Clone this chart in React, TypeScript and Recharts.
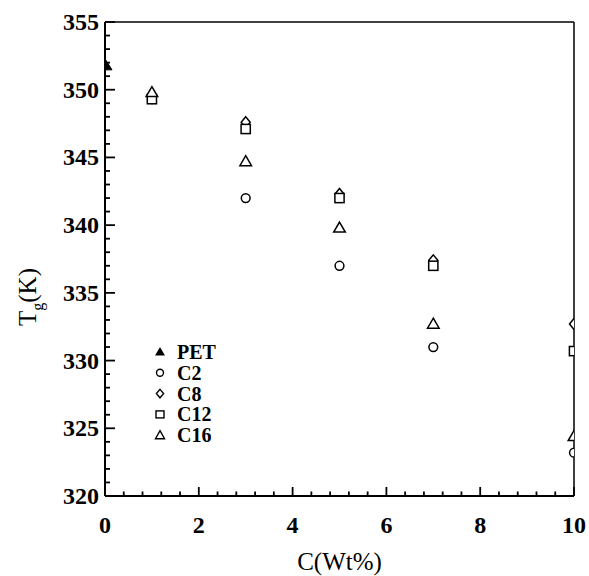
import React from 'react';
import { ScatterChart, Scatter, XAxis, YAxis, ReferenceLine } from 'recharts';

// ---- data ----
const concentrations = [1, 3, 5, 7, 10];
const petConc = [0];
const petTg = [351.8];
const c2Tg = [349.3, 342.0, 337.0, 331.0, 323.2];
const c8Tg = [349.6, 347.6, 342.3, 337.4, 332.7];
const c12Tg = [349.3, 347.1, 342.0, 337.0, 330.7];
const c16Tg = [349.8, 344.7, 339.8, 332.7, 324.4];

// ---- ticks ----
const xTicks = [0, 0.4, 0.8, 1.2, 1.6, 2, 2.4, 2.8, 3.2, 3.6, 4, 4.4, 4.8, 5.2, 5.6, 6, 6.4, 6.8, 7.2, 7.6, 8, 8.4, 8.8, 9.2, 9.6, 10];
const xLabels = [0, 2, 4, 6, 8, 10];
const yTicks = [320, 321, 322, 323, 324, 325, 326, 327, 328, 329, 330, 331, 332, 333, 334, 335, 336, 337, 338, 339, 340, 341, 342, 343, 344, 345, 346, 347, 348, 349, 350, 351, 352, 353, 354, 355];
const yLabels = [320, 325, 330, 335, 340, 345, 350, 355];

const legendNames = ['PET', 'C2', 'C8', 'C12', 'C16'];

const toPoints = (xs: number[], ys: number[]) => xs.map((x, i) => ({ x, y: ys[i] }));

const petData = toPoints(petConc, petTg);
const c2Data = toPoints(concentrations, c2Tg);
const c8Data = toPoints(concentrations, c8Tg);
const c12Data = toPoints(concentrations, c12Tg);
const c16Data = toPoints(concentrations, c16Tg);

const SERIF = '"Liberation Serif", "Times New Roman", serif';
const INK = '#000';

const isNear = (a: number, list: number[]) => list.some((b) => Math.abs(a - b) < 1e-6);

const YTick = (props: any) => {
  const x = Number(props.x);
  const y = Number(props.y);
  const v = props.payload.value;
  const major = isNear(v, yLabels);
  return (
    <g>
      <line x1={x} x2={x + (major ? 10 : 5)} y1={y} y2={y} stroke={INK} strokeWidth={1.8} />
      {major && (
        <text x={x - 6} y={y + 8} textAnchor="end" fontFamily={SERIF} fontWeight="bold" fontSize={24} fill={INK}>
          {v}
        </text>
      )}
    </g>
  );
};

const XTick = (props: any) => {
  const x = Number(props.x);
  const y = Number(props.y);
  const v = props.payload.value;
  const major = isNear(v, xLabels);
  return (
    <g>
      <line x1={x} x2={x} y1={y} y2={y - (major ? 9 : 4.5)} stroke={INK} strokeWidth={1.8} />
      {major && (
        <text x={x} y={y + 37} textAnchor="middle" fontFamily={SERIF} fontWeight="bold" fontSize={24} fill={INK}>
          {v}
        </text>
      )}
    </g>
  );
};

const OpenCircle = (p: any) => (
  <circle cx={p.cx} cy={p.cy} r={4.4} fill="#fff" stroke={INK} strokeWidth={1.5} />
);
const OpenDiamond = (p: any) => (
  <path d={`M${p.cx},${p.cy - 5.5} L${p.cx + 4.5},${p.cy} L${p.cx},${p.cy + 5.5} L${p.cx - 4.5},${p.cy} Z`} fill="#fff" stroke={INK} strokeWidth={1.5} />
);
const OpenSquare = (p: any) => (
  <rect x={p.cx - 4.6} y={p.cy - 4.6} width={9.2} height={9.2} fill="#fff" stroke={INK} strokeWidth={1.5} />
);
const OpenTriangle = (p: any) => (
  <path d={`M${p.cx},${p.cy - 5.8} L${p.cx + 5.8},${p.cy + 4.2} L${p.cx - 5.8},${p.cy + 4.2} Z`} fill="#fff" stroke={INK} strokeWidth={1.5} />
);
const FilledTriangle = (p: any) => (
  <path d={`M${p.cx},${p.cy - 6.5} L${p.cx + 7},${p.cy + 4.5} L${p.cx - 7},${p.cy + 4.5} Z`} fill={INK} stroke={INK} strokeWidth={1} />
);

const legendMarker = (name: string, cx: number, cy: number) => {
  switch (name) {
    case 'PET':
      return <path d={`M${cx},${cy - 5} L${cx + 5},${cy + 3.5} L${cx - 5},${cy + 3.5} Z`} fill={INK} />;
    case 'C2':
      return <circle cx={cx} cy={cy} r={3.5} fill="#fff" stroke={INK} strokeWidth={1.4} />;
    case 'C8':
      return <path d={`M${cx},${cy - 4.2} L${cx + 3.6},${cy} L${cx},${cy + 4.2} L${cx - 3.6},${cy} Z`} fill="#fff" stroke={INK} strokeWidth={1.4} />;
    case 'C12':
      return <rect x={cx - 4} y={cy - 3.5} width={8} height={7} fill="#fff" stroke={INK} strokeWidth={1.4} />;
    default:
      return <path d={`M${cx},${cy - 4.5} L${cx + 4.5},${cy + 3.5} L${cx - 4.5},${cy + 3.5} Z`} fill="#fff" stroke={INK} strokeWidth={1.4} />;
  }
};

export default function App() {
  return (
    <div style={{ position: 'absolute', left: 0, top: 0, width: 589, height: 576, background: '#fff' }}>
      <ScatterChart width={589} height={576} margin={{ top: 22, right: 15, bottom: 50, left: 45 }}>
        <XAxis
          type="number"
          dataKey="x"
          domain={[0, 10]}
          ticks={xTicks}
          interval={0}
          height={30}
          tickSize={0}
          tickMargin={0}
          tickLine={false}
          axisLine={{ stroke: INK, strokeWidth: 2 }}
          tick={<XTick />}
          allowDataOverflow
          label={{
            content: (p: any) => {
              const vb = p.viewBox || { x: 105, y: 496, width: 469 };
              return (
                <text x={vb.x + vb.width / 2} y={vb.y + 74} textAnchor="middle" fontFamily={SERIF} fontSize={25} fill={INK}>
                  C(Wt%)
                </text>
              );
            },
          }}
        />
        <YAxis
          type="number"
          dataKey="y"
          domain={[320, 355]}
          ticks={yTicks}
          interval={0}
          width={60}
          tickSize={0}
          tickMargin={0}
          tickLine={false}
          axisLine={{ stroke: INK, strokeWidth: 2 }}
          tick={<YTick />}
          allowDataOverflow
          label={{
            content: () => (
              <text transform="translate(36,297) rotate(-90)" textAnchor="middle" fontFamily={SERIF} fontSize={25} fill={INK}>
                T<tspan fontSize={16} dy={7}>g</tspan>
                <tspan dy={-7}>(K)</tspan>
              </text>
            ),
          }}
        />
        <ReferenceLine y={355} stroke={INK} strokeWidth={1.5} ifOverflow="visible" />
        <ReferenceLine x={10} stroke={INK} strokeWidth={1.5} ifOverflow="visible" />
        <Scatter name="C2" data={c2Data} shape={<OpenCircle />} isAnimationActive={false} />
        <Scatter name="C8" data={c8Data} shape={<OpenDiamond />} isAnimationActive={false} />
        <Scatter name="C12" data={c12Data} shape={<OpenSquare />} isAnimationActive={false} />
        <Scatter name="C16" data={c16Data} shape={<OpenTriangle />} isAnimationActive={false} />
        <Scatter name="PET" data={petData} shape={<FilledTriangle />} isAnimationActive={false} />
      </ScatterChart>
      <svg width={120} height={120} style={{ position: 'absolute', left: 140, top: 335 }}>
        {legendNames.map((name, i) => {
          const cy = 17 + i * 20.8;
          return (
            <g key={name}>
              {legendMarker(name, 20, cy)}
              <text x={37} y={cy + 7} fontFamily={SERIF} fontWeight="bold" fontSize={20} fill={INK}>
                {name}
              </text>
            </g>
          );
        })}
      </svg>
    </div>
  );
}
